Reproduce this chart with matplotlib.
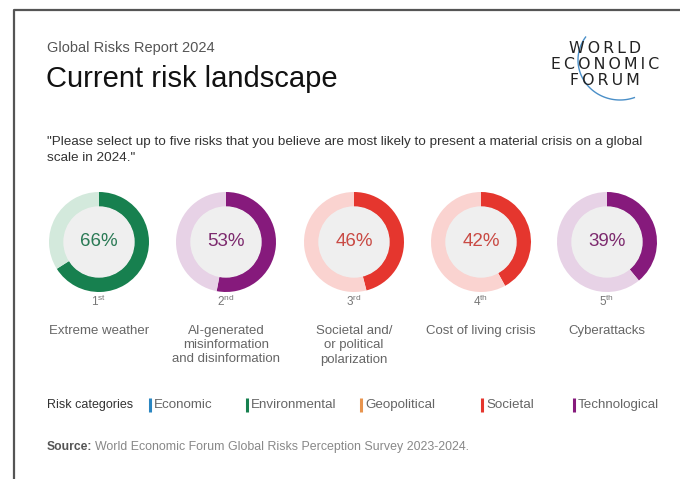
import matplotlib
matplotlib.use("Agg")
import matplotlib.pyplot as plt
import numpy as np

plt.rcParams['font.family'] = ['Liberation Sans', 'DejaVu Sans']
plt.rcParams['mathtext.fontset'] = 'custom'
plt.rcParams['mathtext.rm'] = 'Liberation Sans'

# ---- data ----
risks = ["Extreme weather",
         "AI-generated\nmisinformation\nand disinformation",
         "Societal and/\nor political\npolarization",
         "Cost of living crisis",
         "Cyberattacks"]
values = [66, 53, 46, 42, 39]
ranks = ["1", "2", "3", "4", "5"]
rank_suffix = ["st", "nd", "rd", "th", "th"]
risk_category = ["Environmental", "Technological", "Societal", "Societal", "Technological"]

legend_categories = ["Economic", "Environmental", "Geopolitical", "Societal", "Technological"]

# ---- styles ----
dark = {"Economic": "#2b86c1", "Environmental": "#17804f", "Geopolitical": "#e8944e",
        "Societal": "#e5362e", "Technological": "#861a7c"}
light = {"Environmental": "#d3e9dc", "Technological": "#e7d2e6", "Societal": "#fad3d0"}
pct_color = {"Environmental": "#2a7a55", "Technological": "#7d2a6e", "Societal": "#c94a44"}

W, H = 680, 479
fig = plt.figure(figsize=(W / 100, H / 100), dpi=100)
bg = fig.add_axes([0, 0, 1, 1])
bg.set_xlim(0, W)
bg.set_ylim(H, 0)
bg.axis('off')

# border
bg.plot([14, 14, W], [H, 10, 10], color="#555555", lw=1.6, solid_capstyle='butt')

# header
bg.text(47, 48, "Global Risks Report 2024", fontsize=10.5, color="#555555", va='center')
bg.text(46, 79, "Current risk landscape", fontsize=21, color="#111111", va='center')

# logo
ts = "\u2009"
for txt, yy in zip(["WORLD", "ECONOMIC", "FORUM"], [48, 64, 80]):
    bg.text(605, yy, ts.join(txt), fontsize=11.3, color="#222222", ha='center', va='center',
            family=['DejaVu Sans'])
th = np.radians(np.linspace(215, 70, 80))
bg.plot(620 + 42 * np.cos(th), 60 + 40 * np.sin(th), color="#4a8fc8", lw=1.0)

# quote
bg.text(47, 142, "\"Please select up to five risks that you believe are most likely to present a material crisis on a global",
        fontsize=9.7, color="#333333", va='center')
bg.text(47, 158, "scale in 2024.\"", fontsize=9.7, color="#333333", va='center')

# donuts
centers_x = [99, 226, 354, 481, 607]
cy = 242
R = 50
for i, (v, cat) in enumerate(zip(values, risk_category)):
    cx = centers_x[i]
    ax = fig.add_axes([(cx - R) / W, (H - cy - R) / H, 2 * R / W, 2 * R / H])
    ax.pie([v, 100 - v], colors=[dark[cat], light[cat]], startangle=90, counterclock=False,
           radius=1.0, wedgeprops=dict(width=0.3, edgecolor='none'))
    circ = plt.Circle((0, 0), 0.7, color="#efefef", zorder=5)
    ax.add_patch(circ)
    ax.set_xlim(-1, 1)
    ax.set_ylim(-1, 1)
    ax.set_aspect('equal')
    ax.axis('off')
    ax.text(0, 0, f"{v}%", fontsize=13.5, color=pct_color[cat], ha='center', va='center',
            zorder=10)
    bg.text(cx, 301, ranks[i] + r"$^{\mathrm{" + rank_suffix[i] + "}}$", fontsize=8.5,
            color="#777777", ha='center', va='center')
    bg.text(cx, 325, risks[i], fontsize=9.5, color="#666666", ha='center', va='top',
            linespacing=1.25)

# legend
bg.text(47, 405, "Risk categories", fontsize=9, color="#333333", va='center')
leg_x = [150, 247, 361, 482, 574]
for lx, cat in zip(leg_x, legend_categories):
    bg.plot([lx, lx], [398, 412], color=dark[cat], lw=2.2, solid_capstyle='butt')
    bg.text(lx + 4, 405, cat, fontsize=9.6, color="#666666", va='center')

# source
bg.text(47, 447, "Source:", fontsize=8.7, color="#555555", weight='bold', va='center')
bg.text(95, 447, "World Economic Forum Global Risks Perception Survey 2023-2024.",
        fontsize=8.95, color="#888888", va='center')

fig.savefig("out.png", dpi=100)
